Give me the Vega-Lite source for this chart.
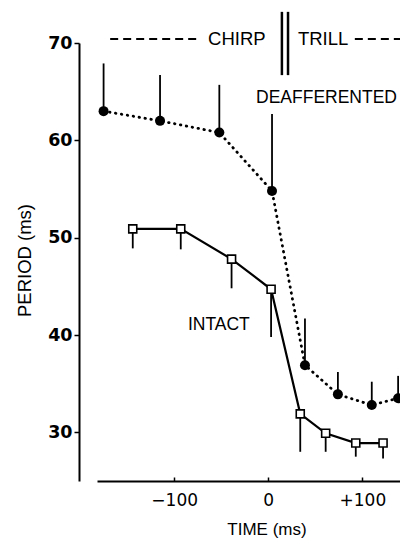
{
  "$schema": "https://vega.github.io/schema/vega-lite/v6.json",
  "width": 303,
  "height": 438,
  "autosize": {"type": "none"},
  "padding": {"left": 97, "top": 43, "right": 0, "bottom": 61},
  "background": "white",
  "config": {"view": {"stroke": null}},
  "datasets": {
    "deaf": [
      {"t": -175, "v": 63.0, "e": 67.9},
      {"t": -115, "v": 62.0, "e": 66.7},
      {"t": -52, "v": 60.8, "e": 65.7},
      {"t": 4, "v": 54.8, "e": 62.7},
      {"t": 39, "v": 36.9, "e": 41.7},
      {"t": 74, "v": 33.9, "e": 36.2},
      {"t": 110, "v": 32.8, "e": 35.2},
      {"t": 138, "v": 33.5, "e": 35.8}
    ],
    "intact": [
      {"t": -144, "v": 50.9, "e": 48.9},
      {"t": -93, "v": 50.9, "e": 48.8},
      {"t": -39, "v": 47.8, "e": 44.8},
      {"t": 3, "v": 44.7, "e": 39.8},
      {"t": 34, "v": 31.9, "e": 28.0},
      {"t": 61, "v": 29.9, "e": 28.0},
      {"t": 93, "v": 28.9, "e": 27.5},
      {"t": 122, "v": 28.9, "e": 27.3}
    ],
    "dashes": [
      {"t": -168, "t2": -73, "v": 70.4},
      {"t": 92, "t2": 150, "v": 70.4}
    ],
    "bars": [
      {"t": 14.5, "v": 66.7, "e": 73.2},
      {"t": 21, "v": 66.7, "e": 73.2}
    ],
    "phase": [
      {"t": -64, "v": 70.4, "label": "CHIRP"},
      {"t": 31.5, "v": 70.4, "label": "TRILL"}
    ],
    "series": [
      {"t": -13, "v": 64.3, "label": "DEAFFERENTED"},
      {"t": -85.4, "v": 41.0, "label": "INTACT"}
    ]
  },
  "encoding": {
    "x": {
      "field": "t",
      "type": "quantitative",
      "scale": {"domain": [-182, 140], "nice": false, "zero": false},
      "axis": {
        "title": "TIME (ms)",
        "values": [-100, 0, 100],
        "labelExpr": "datum.value > 0 ? '+' + datum.label : datum.label",
        "grid": false,
        "tickSize": -4,
        "tickWidth": 1.5,
        "tickColor": "black",
        "domainWidth": 2,
        "domainColor": "black",
        "labelFont": "DejaVu Sans",
        "labelFontSize": 17,
        "labelColor": "black",
        "labelPadding": 15,
        "titleFont": "Liberation Sans",
        "titleFontSize": 17,
        "titleFontWeight": "normal",
        "titleColor": "black",
        "titleX": 169.5,
        "titleY": 53,
        "titleBaseline": "alphabetic",
        "titleAlign": "center"
      }
    },
    "y": {
      "field": "v",
      "type": "quantitative",
      "scale": {"domain": [25, 70], "nice": false, "zero": false},
      "axis": {
        "title": "PERIOD (ms)",
        "values": [30, 40, 50, 60, 70],
        "offset": 18,
        "grid": false,
        "tickSize": 5,
        "tickWidth": 1.5,
        "tickColor": "black",
        "domainWidth": 2,
        "domainColor": "black",
        "labelFont": "DejaVu Sans",
        "labelFontWeight": "bold",
        "labelFontSize": 17.5,
        "labelColor": "black",
        "labelPadding": 2,
        "titleFont": "Liberation Sans",
        "titleFontSize": 18.5,
        "titleFontWeight": "normal",
        "titleColor": "black",
        "titleAngle": -90,
        "titleX": -49,
        "titleY": 217,
        "titleBaseline": "alphabetic",
        "titleAlign": "center"
      }
    }
  },
  "layer": [
    {
      "data": {"name": "dashes"},
      "mark": {"type": "rule", "color": "black", "strokeWidth": 2, "strokeDash": [8, 5]},
      "encoding": {"x2": {"field": "t2"}}
    },
    {
      "data": {"name": "bars"},
      "mark": {"type": "rule", "color": "black", "strokeWidth": 2.5},
      "encoding": {"y2": {"field": "e"}}
    },
    {
      "data": {"name": "phase"},
      "mark": {"type": "text", "align": "left", "baseline": "middle", "font": "Liberation Sans", "fontSize": 18.5, "color": "black"},
      "encoding": {"text": {"field": "label"}}
    },
    {
      "data": {"name": "series"},
      "mark": {"type": "text", "align": "left", "baseline": "middle", "font": "Liberation Sans", "fontSize": 17.5, "color": "black"},
      "encoding": {"text": {"field": "label"}}
    },
    {
      "data": {"name": "deaf"},
      "mark": {"type": "rule", "color": "black", "strokeWidth": 1.8},
      "encoding": {"y2": {"field": "e"}}
    },
    {
      "data": {"name": "deaf"},
      "mark": {"type": "line", "color": "black", "strokeWidth": 2.8, "strokeDash": [0.5, 5.5], "strokeCap": "round"},
      "encoding": {}
    },
    {
      "data": {"name": "deaf"},
      "mark": {"type": "point", "shape": "circle", "filled": true, "color": "black", "size": 100, "opacity": 1},
      "encoding": {}
    },
    {
      "data": {"name": "intact"},
      "mark": {"type": "rule", "color": "black", "strokeWidth": 1.8},
      "encoding": {"y2": {"field": "e"}}
    },
    {
      "data": {"name": "intact"},
      "mark": {"type": "line", "color": "black", "strokeWidth": 2.2},
      "encoding": {}
    },
    {
      "data": {"name": "intact"},
      "mark": {"type": "point", "shape": "square", "filled": true, "fill": "white", "stroke": "black", "strokeWidth": 1.6, "size": 64, "opacity": 1},
      "encoding": {}
    }
  ]
}
